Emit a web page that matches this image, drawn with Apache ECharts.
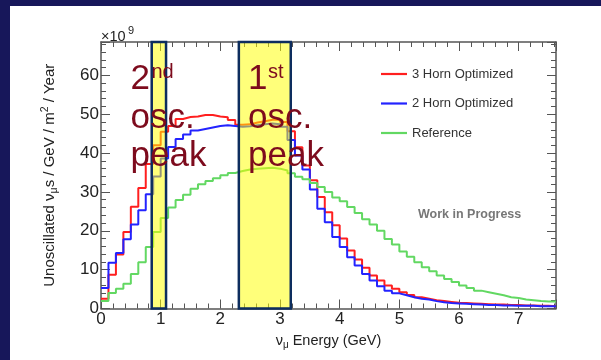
<!DOCTYPE html>
<html>
<head>
<meta charset="utf-8">
<script src="https://cdn.jsdelivr.net/npm/echarts@6/dist/echarts.min.js"></script>
<style>
html, body { margin: 0; padding: 0; background: #17175a; }
#slide { position: absolute; left: 10px; top: 6px; width: 591px; height: 354px; background: #fff; }
#chart-container { position: absolute; left: 0; top: 0; width: 601px; height: 360px; }
</style>
</head>
<body>
<div id="slide"></div>
<div id="chart-container"></div>
<script>
// histogram bins of 0.125 GeV starting at 0, values in units of 1e9
var binWidth = 0.125;
var horn3 = [2.5, 8.7, 13.9, 19.7, 26.2, 31.0, 37.2, 42.0, 45.5, 47.0,
  48.8, 49.3, 49.4, 49.8, 49.8, 49.4, 49.2, 48.5, 47.3, 47.4,
  47.9, 48.2, 48.6, 48.6, 48.0, 45.6, 41.5, 36.8, 33.0, 28.7,
  24.8, 21.4, 18.0, 14.9, 12.6, 10.5, 8.5, 7.2, 5.9, 5.1,
  4.2, 3.5, 2.9, 2.5, 2.1, 1.9, 1.7, 1.5, 1.4, 1.3,
  1.2, 1.1, 1.0, 1.0, 0.9, 0.9, 0.8, 0.8, 0.7, 0.7, 0.6];
var horn2 = [5.3, 11.8, 14.3, 17.8, 21.6, 25.3, 29.4, 34.0, 38.6, 41.6,
  43.6, 44.8, 45.8, 46.2, 46.6, 47.0, 47.2, 47.0, 46.8, 46.9,
  47.2, 47.4, 47.6, 47.4, 46.8, 43.4, 39.4, 35.8, 30.6, 25.7,
  22.2, 18.4, 15.8, 13.2, 11.1, 8.9, 7.2, 5.7, 4.6, 3.9,
  3.4, 2.9, 2.5, 2.3, 1.9, 1.6, 1.4, 1.3, 1.2, 1.1,
  1.0, 0.9, 0.9, 0.8, 0.8, 0.7, 0.7, 0.7, 0.6, 0.6, 0.6];
var reference = [1.9, 4.0, 5.1, 6.4, 8.9, 11.9, 15.8, 19.7, 23.3, 26.0,
  27.9, 29.3, 30.8, 32.0, 32.8, 33.5, 34.3, 34.9, 35.4, 35.8,
  36.0, 36.1, 36.2, 36.0, 35.5, 34.8, 33.9, 33.3, 32.3, 31.3,
  30.0, 28.6, 27.6, 26.1, 24.6, 23.0, 21.6, 20.0, 17.9, 16.5,
  14.7, 13.3, 11.9, 10.6, 9.6, 8.5, 7.6, 6.8, 5.9, 5.3,
  4.6, 4.2, 3.8, 3.4, 2.9, 2.7, 2.3, 2.1, 1.9, 1.8, 1.8];
var seriesNames = ['3 Horn Optimized', '2 Horn Optimized', 'Reference'];
var seriesColors = ['#ff1f1f', '#2323ff', '#62d862'];
// oscillation peak windows [from, to] in GeV
var bands = [[0.85, 1.09], [2.31, 3.18]];

var xMax = 7.625;
var yMax = 68.6;
var frameColor = '#555';
var oscColor = '#7d0b1d';
var font = 'Liberation Sans, Arial, sans-serif';

function toSteps(values) {
  var pts = values.map(function (v, i) { return [i * binWidth, v]; });
  pts.push([values.length * binWidth, values[values.length - 1]]);
  return pts;
}

function histSeries(name, values, color) {
  return {
    name: name,
    type: 'line',
    step: 'end',
    showSymbol: false,
    symbol: 'none',
    data: toSteps(values),
    lineStyle: { color: color, width: 2 },
    itemStyle: { color: color },
    z: 3
  };
}

var tickStyle = { color: frameColor, width: 1 };

function frameAxis(pos, isX) {
  return {
    type: 'value',
    position: pos,
    min: 0,
    max: isX ? xMax : yMax,
    interval: isX ? 1 : 10,
    axisLine: { show: true, onZero: false, lineStyle: { color: frameColor, width: 1.5 } },
    axisTick: { show: true, inside: true, length: 9, lineStyle: tickStyle },
    minorTick: { show: true, splitNumber: 5, length: 5, lineStyle: tickStyle },
    axisLabel: { show: false },
    splitLine: { show: false }
  };
}

var dom = document.getElementById('chart-container');
var myChart = echarts.init(dom);
var option;

var xBottom = frameAxis('bottom', true);
xBottom.axisLabel = { show: true, fontSize: 17, color: '#222', margin: 2, showMaxLabel: false };
xBottom.name = '{n|ν}{sub|μ}{n| Energy (GeV)}';
xBottom.nameLocation = 'middle';
xBottom.nameGap = 22;
xBottom.nameMoveOverlap = false;
xBottom.nameTextStyle = {
  rich: {
    n: { fontSize: 14.5, color: '#222', lineHeight: 20, fontFamily: font },
    sub: { fontSize: 10, color: '#222', lineHeight: 10, verticalAlign: 'bottom', fontFamily: font }
  }
};

var yLeft = frameAxis('left', false);
yLeft.axisLabel = { show: true, fontSize: 17, color: '#222', margin: 2, showMaxLabel: false };
yLeft.name = '{n|Unoscillated ν}{sub|μ}{n|s / GeV / m}{sup|2}{n| / Year}';
yLeft.nameLocation = 'middle';
yLeft.nameGap = 41;
yLeft.nameMoveOverlap = false;
yLeft.nameTextStyle = {
  rich: {
    n: { fontSize: 15, color: '#222', lineHeight: 20, fontFamily: font },
    sub: { fontSize: 10.5, color: '#222', lineHeight: 10, verticalAlign: 'bottom', fontFamily: font },
    sup: { fontSize: 10.5, color: '#222', lineHeight: 10, verticalAlign: 'top', fontFamily: font }
  }
};

option = {
  animation: false,
  textStyle: { fontFamily: font },
  grid: { left: 101, right: 45, top: 42, bottom: 51.5, outerBoundsMode: 'none' },
  xAxis: [xBottom, frameAxis('top', true)],
  yAxis: [yLeft, frameAxis('right', false)],
  legend: {
    orient: 'vertical',
    left: 381,
    top: 67,
    padding: 0,
    itemWidth: 26,
    itemHeight: 14,
    itemGap: 15.5,
    icon: 'path://M0,0H26V2.2H0Z',
    textStyle: { fontSize: 13, color: '#333', lineHeight: 14 },
    data: seriesNames
  },
  series: [
    histSeries(seriesNames[0], horn3, seriesColors[0]),
    histSeries(seriesNames[1], horn2, seriesColors[1]),
    histSeries(seriesNames[2], reference, seriesColors[2]),
    {
      type: 'custom',
      name: 'bands',
      data: bands,
      z: 10,
      silent: true,
      encode: { x: [0, 1] },
      renderItem: function (params, api) {
        var p0 = api.coord([api.value(0), yMax]);
        var p1 = api.coord([api.value(1), 0]);
        return {
          type: 'rect',
          shape: { x: p0[0], y: p0[1], width: p1[0] - p0[0], height: p1[1] - p0[1] },
          style: { fill: 'rgba(255,255,0,0.52)', stroke: '#0d2d5e', lineWidth: 2.5 }
        };
      }
    }
  ],
  graphic: [
    { type: 'text', x: 101, y: 37, z: 100, style: { text: '×10', font: '14.5px ' + font, fill: '#222', verticalAlign: 'middle' } },
    { type: 'text', x: 128, y: 31, z: 100, style: { text: '9', font: '11px ' + font, fill: '#222', verticalAlign: 'middle' } },

    { type: 'text', x: 130.5, y: 79, z: 100, style: { text: '2', font: '35px ' + font, fill: oscColor, verticalAlign: 'middle' } },
    { type: 'text', x: 151.5, y: 72, z: 100, style: { text: 'nd', font: '20px ' + font, fill: oscColor, verticalAlign: 'middle' } },
    { type: 'text', x: 130.5, y: 118, z: 100, style: { text: 'osc.', font: '35px ' + font, fill: oscColor, verticalAlign: 'middle' } },
    { type: 'text', x: 130.5, y: 156.5, z: 100, style: { text: 'peak', font: '35px ' + font, fill: oscColor, verticalAlign: 'middle' } },

    { type: 'text', x: 248, y: 79, z: 100, style: { text: '1', font: '35px ' + font, fill: oscColor, verticalAlign: 'middle' } },
    { type: 'text', x: 268, y: 72, z: 100, style: { text: 'st', font: '20px ' + font, fill: oscColor, verticalAlign: 'middle' } },
    { type: 'text', x: 248, y: 118, z: 100, style: { text: 'osc.', font: '35px ' + font, fill: oscColor, verticalAlign: 'middle' } },
    { type: 'text', x: 248, y: 156.5, z: 100, style: { text: 'peak', font: '35px ' + font, fill: oscColor, verticalAlign: 'middle' } },

    { type: 'text', x: 418, y: 215, z: 100, style: { text: 'Work in Progress', font: 'bold 12.5px ' + font, fill: '#777', verticalAlign: 'middle' } }
  ]
};

if (option && typeof option === 'object') {
  myChart.setOption(option);
}

window.addEventListener('resize', myChart.resize);
</script>
</body>
</html>
